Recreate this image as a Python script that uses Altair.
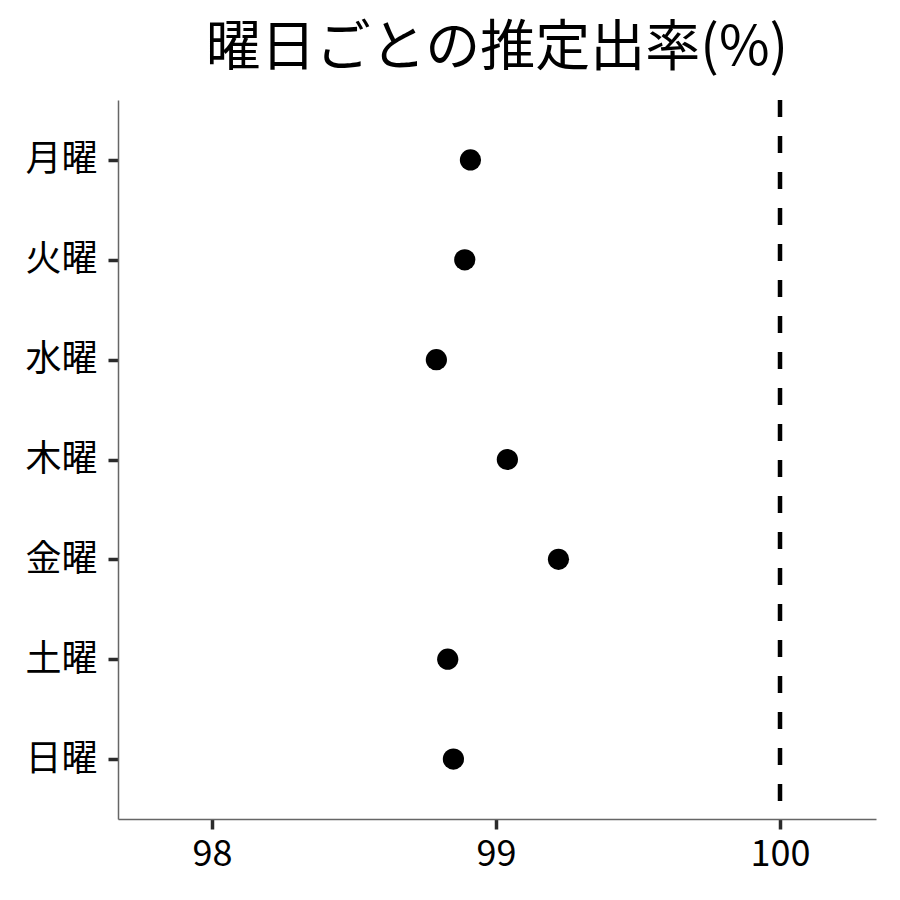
import altair as alt
import pandas as pd

days = ["月曜", "火曜", "水曜", "木曜", "金曜", "土曜", "日曜"]
rates = [98.91, 98.89, 98.79, 99.04, 99.22, 98.83, 98.85]
ref_value = [100]

df = pd.DataFrame({"day": days, "rate": rates})
ref = pd.DataFrame({"v": ref_value})

FONT = "Noto Sans CJK JP"

xscale = alt.Scale(domain=[97.669, 100.338], nice=False, zero=False)
yscale = alt.Scale(type="point", domain=days, padding=0.6)

points = alt.Chart(df).mark_circle(size=450, color="black", opacity=1).encode(
    x=alt.X("rate:Q", scale=xscale,
            axis=alt.Axis(values=[98, 99, 100], format="d", title=None, grid=False,
                          labelFontSize=36, labelFont=FONT, labelColor="black",
                          tickSize=10, tickWidth=3.5, tickColor="#2b2b2b",
                          domainColor="#666666", domainWidth=1.5, labelPadding=8)),
    y=alt.Y("day:N", scale=yscale, sort=days,
            axis=alt.Axis(title=None, grid=False,
                          labelFontSize=36, labelFont=FONT, labelColor="black",
                          tickSize=10, tickWidth=3.5, tickColor="#2b2b2b",
                          domainColor="#666666", domainWidth=1.5, labelPadding=11)),
)

rule = alt.Chart(ref).mark_rule(color="black", strokeWidth=4.5, strokeDash=[17, 19]).encode(
    x=alt.X("v:Q", scale=xscale),
)

chart = (rule + points).properties(
    width=758,
    height=719,
    background="white",
    title=alt.TitleParams("曜日ごとの推定出率(%)", fontSize=55, font=FONT,
                          fontWeight="normal", color="black", anchor="middle", offset=21),
    autosize=alt.AutoSizeParams(type="none"),
    padding={"left": 110, "top": 92, "right": 16, "bottom": 73},
).configure_view(stroke=None)

chart.save("out.html", embed_options={"renderer": "svg", "actions": False})
